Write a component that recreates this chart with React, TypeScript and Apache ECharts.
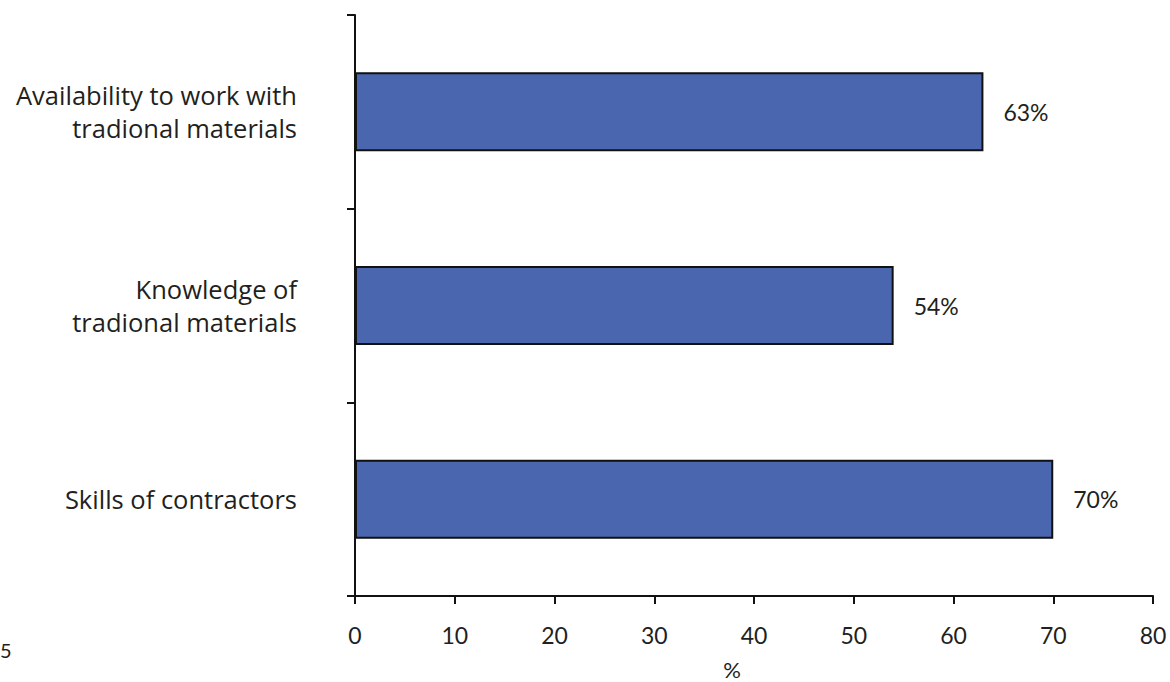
import React, { useEffect, useRef } from "react";
import * as echarts from "echarts";

const categories = [
  "Skills of contractors",
  "Knowledge of\ntradional materials",
  "Availability to work with\ntradional materials",
];
const values = [70, 54, 63];
const xTicks = { min: 0, max: 80, interval: 10 };
const axisName = "%";
const strayText = "5";

const FONT = "Lato";
const CAT_FONT = "Open Sans";
const TEXT = "#231f20";

export default function App() {
  const ref = useRef<HTMLDivElement>(null);
  useEffect(() => {
    if (!ref.current) return;
    const chart = echarts.init(ref.current, null, { renderer: "svg" });
    chart.setOption({
      animation: false,
      textStyle: { fontFamily: FONT },
      grid: { left: 355, right: 17, top: 15, bottom: 86, containLabel: false },
      xAxis: {
        type: "value",
        min: xTicks.min,
        max: xTicks.max,
        interval: xTicks.interval,
        splitLine: { show: false },
        axisLine: { show: true, lineStyle: { color: "#111", width: 2 } },
        axisTick: { show: true, length: 8, lineStyle: { color: "#111", width: 2 } },
        axisLabel: { margin: 27, fontSize: 23, color: TEXT, fontFamily: FONT },
      },
      yAxis: {
        type: "category",
        data: categories,
        axisLine: { show: true, lineStyle: { color: "#111", width: 2 } },
        axisTick: { show: true, length: 8, lineStyle: { color: "#111", width: 2 } },
        axisLabel: {
          margin: 58,
          fontSize: 25.5,
          lineHeight: 33,
          color: TEXT,
          fontFamily: CAT_FONT,
          align: "right",
        },
      },
      series: [
        {
          type: "bar",
          data: values,
          barWidth: 79,
          itemStyle: { color: "#4a66ae", borderColor: "#111", borderWidth: 2 },
          label: {
            show: true,
            position: "right",
            distance: 20,
            formatter: "{c}%",
            fontSize: 23,
            color: TEXT,
            fontFamily: FONT,
          },
        },
      ],
      graphic: [
        {
          type: "text",
          x: 732,
          y: 669,
          style: {
            text: axisName,
            fontSize: 22,
            fill: TEXT,
            fontFamily: FONT,
            align: "center",
            verticalAlign: "middle",
          },
        },
        {
          type: "text",
          x: 0,
          y: 650,
          style: {
            text: strayText,
            fontSize: 20,
            fill: TEXT,
            fontFamily: FONT,
            align: "left",
            verticalAlign: "middle",
          },
        },
      ],
    });
    return () => chart.dispose();
  }, []);
  return (
    <div
      ref={ref}
      style={{ position: "absolute", left: 0, top: 0, width: 1170, height: 682 }}
    />
  );
}
